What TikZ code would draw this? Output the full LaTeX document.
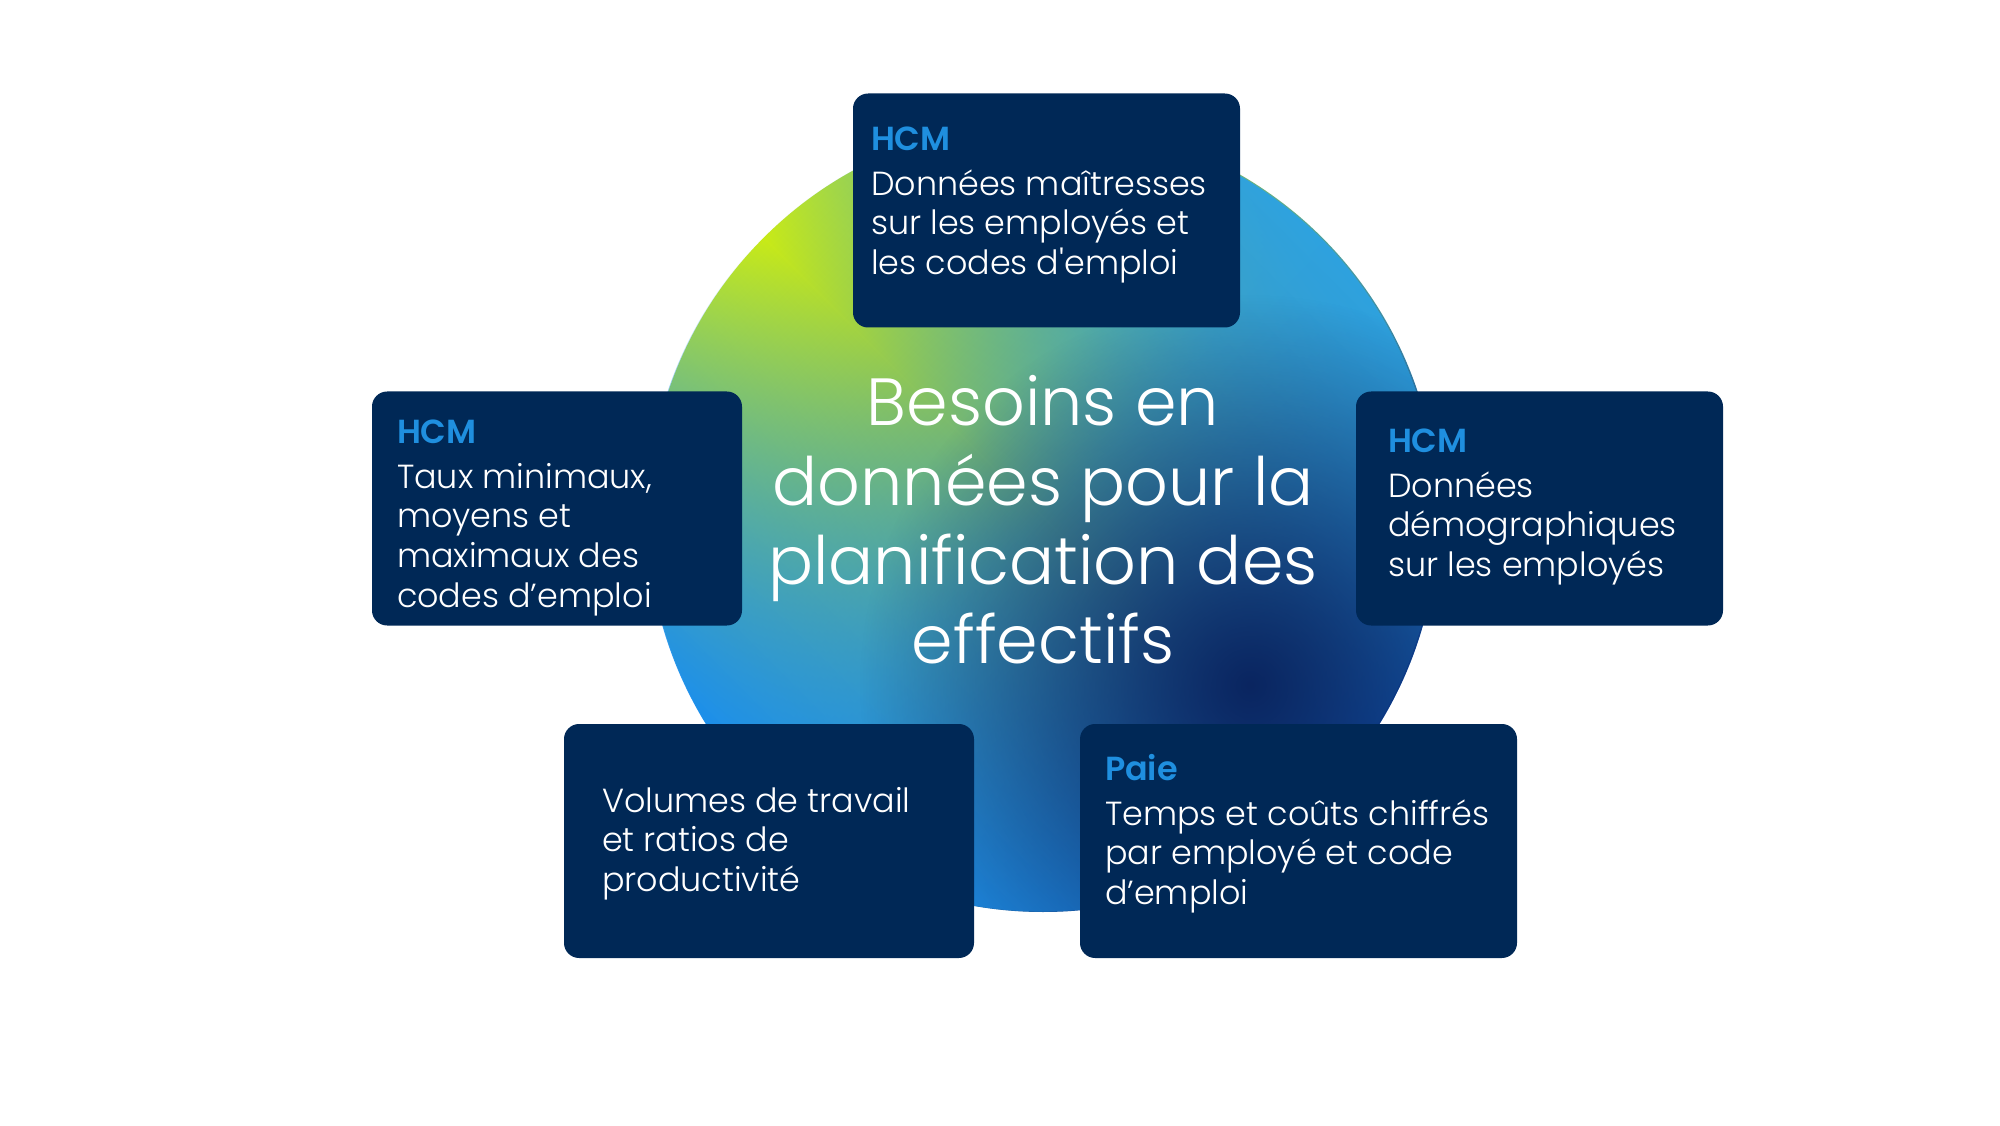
\documentclass[tikz,border=0pt]{standalone}
\usepackage{fontspec}
\IfFontExistsTF{Poppins Light}{%
  \IfFontExistsTF{Poppins SemiBold}
    {\setmainfont{Poppins}[UprightFont=* Light, BoldFont=* SemiBold]}
    {\setmainfont{Poppins}[UprightFont=* Light]}}
  {\setmainfont{Poppins}}
\usepackage{tikz}
\usetikzlibrary{positioning, fadings}
\definecolor{wfnavy}{HTML}{002856}
\definecolor{wfblue}{HTML}{1F8FDF}
\definecolor{wflime}{HTML}{C8EA18}
\definecolor{wfteal}{HTML}{52A29A}
\definecolor{wfroyal}{HTML}{0E55BE}
\definecolor{wfdeep}{HTML}{0A2560}
\definecolor{wfsky}{HTML}{2EA2E0}
\definecolor{wfbright}{HTML}{1A8EEE}
\tikzfading[name=wfends, top color=transparent!0, bottom color=transparent!0, middle color=transparent!100]
\tikzfading[name=wfblob, inner color=transparent!0, outer color=transparent!100]

\begin{document}
\begin{tikzpicture}[
          card/.style={fill=wfnavy, rounded corners=4.3pt, minimum height=2.34cm, inner sep=0pt},
          cardtxt/.style={inner sep=0pt, align=left, text=white, font=\fontsize{9.5}{11.3}\selectfont}]
          \useasboundingbox (0,0) rectangle (20,11.25);
          \shade[top color=wflime, bottom color=wfroyal, middle color=wfteal, shading angle=45] (10.43,6.08) circle (3.95);
          \shade[path fading=wfends, fading angle=-45, top color=wfsky, bottom color=wfbright, shading angle=-45] (10.43,6.08) circle (3.95);
          \begin{scope}
            \clip (10.43,6.08) circle (3.95);
            \fill[wfdeep, path fading=wfblob] (12.5,4.4) circle (3.9);
          \end{scope}
          \node[text=white, align=center, font=\fontsize{19}{22.6}\selectfont] (title) at (10.43,6.05)
            {Besoins en\\données pour la\\planification des\\effectifs};
          \node[card, minimum width=3.87cm] (tbox) at (10.465,9.145) {};
          \node[card, minimum width=3.70cm] (lbox) at (5.57,6.165) {};
          \node[card, minimum width=3.67cm] (rbox) at (15.395,6.165) {};
          \node[card, minimum width=4.10cm] (blbox) at (7.69,2.84) {};
          \node[card, minimum width=4.37cm] (brbox) at (12.985,2.84) {};
          \node[cardtxt, below right=0.33 and 0.18 of tbox.north west] (ttxt)
            {\textcolor{wfblue}{\textbf{HCM}}\\[1.5pt]Données maîtresses\\sur les employés et\\les codes d\textquotesingle emploi};
          \node[cardtxt, below right=0.28 and 0.25 of lbox.north west] (ltxt)
            {\textcolor{wfblue}{\textbf{HCM}}\\[1.5pt]Taux minimaux,\\moyens et\\maximaux des\\codes d’emploi};
          \node[cardtxt, below right=0.37 and 0.32 of rbox.north west] (rtxt)
            {\textcolor{wfblue}{\textbf{HCM}}\\[1.5pt]Données\\démographiques\\sur les employés};
          \node[cardtxt, below right=0.63 and 0.38 of blbox.north west] (bltxt)
            {Volumes de travail\\et ratios de\\productivité};
          \node[cardtxt, below right=0.30 and 0.25 of brbox.north west] (brtxt)
            {\textcolor{wfblue}{\textbf{Paie}}\\[1.5pt]Temps et coûts chiffrés\\par employé et code\\d’emploi};
        \end{tikzpicture}
\end{document}
